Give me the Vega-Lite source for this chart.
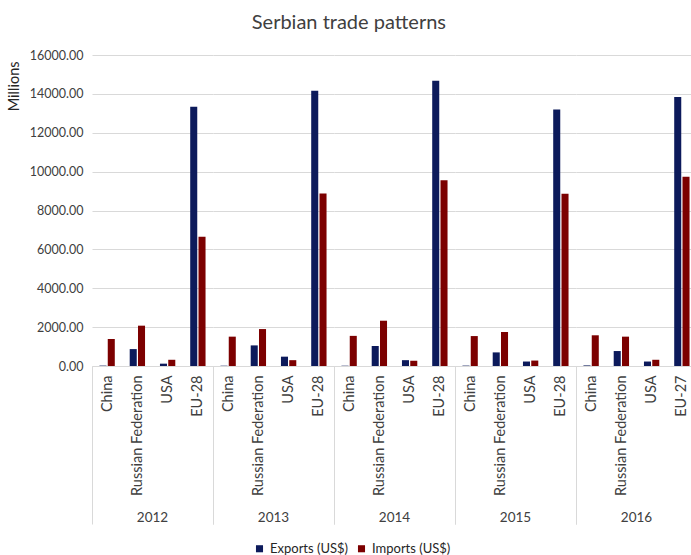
{
  "$schema": "https://vega.github.io/schema/vega-lite/v6.json",
  "padding": {"left": 6, "top": 13, "right": 0, "bottom": 0},
  "bounds": "flush",
  "title": {"text": "Serbian trade patterns", "font": "Lato", "fontSize": 20, "fontWeight": "normal", "color": "#404040", "anchor": "middle", "offset": 16, "dx": -3},
  "data": {"values": [
    {"year": "2012", "country": "China", "flow": "Exports (US$)", "value": 20},
    {"year": "2012", "country": "China", "flow": "Imports (US$)", "value": 1390},
    {"year": "2012", "country": "Russian Federation", "flow": "Exports (US$)", "value": 870},
    {"year": "2012", "country": "Russian Federation", "flow": "Imports (US$)", "value": 2075},
    {"year": "2012", "country": "USA", "flow": "Exports (US$)", "value": 120},
    {"year": "2012", "country": "USA", "flow": "Imports (US$)", "value": 320},
    {"year": "2012", "country": "EU-28", "flow": "Exports (US$)", "value": 13340},
    {"year": "2012", "country": "EU-28", "flow": "Imports (US$)", "value": 6650},
    {"year": "2013", "country": "China", "flow": "Exports (US$)", "value": 15},
    {"year": "2013", "country": "China", "flow": "Imports (US$)", "value": 1510},
    {"year": "2013", "country": "Russian Federation", "flow": "Exports (US$)", "value": 1060},
    {"year": "2013", "country": "Russian Federation", "flow": "Imports (US$)", "value": 1900},
    {"year": "2013", "country": "USA", "flow": "Exports (US$)", "value": 480},
    {"year": "2013", "country": "USA", "flow": "Imports (US$)", "value": 300},
    {"year": "2013", "country": "EU-28", "flow": "Exports (US$)", "value": 14160},
    {"year": "2013", "country": "EU-28", "flow": "Imports (US$)", "value": 8880},
    {"year": "2014", "country": "China", "flow": "Exports (US$)", "value": 15},
    {"year": "2014", "country": "China", "flow": "Imports (US$)", "value": 1550},
    {"year": "2014", "country": "Russian Federation", "flow": "Exports (US$)", "value": 1030},
    {"year": "2014", "country": "Russian Federation", "flow": "Imports (US$)", "value": 2330},
    {"year": "2014", "country": "USA", "flow": "Exports (US$)", "value": 300},
    {"year": "2014", "country": "USA", "flow": "Imports (US$)", "value": 270},
    {"year": "2014", "country": "EU-28", "flow": "Exports (US$)", "value": 14680},
    {"year": "2014", "country": "EU-28", "flow": "Imports (US$)", "value": 9550},
    {"year": "2015", "country": "China", "flow": "Exports (US$)", "value": 20},
    {"year": "2015", "country": "China", "flow": "Imports (US$)", "value": 1540},
    {"year": "2015", "country": "Russian Federation", "flow": "Exports (US$)", "value": 700},
    {"year": "2015", "country": "Russian Federation", "flow": "Imports (US$)", "value": 1750},
    {"year": "2015", "country": "USA", "flow": "Exports (US$)", "value": 230},
    {"year": "2015", "country": "USA", "flow": "Imports (US$)", "value": 280},
    {"year": "2015", "country": "EU-28", "flow": "Exports (US$)", "value": 13200},
    {"year": "2015", "country": "EU-28", "flow": "Imports (US$)", "value": 8860},
    {"year": "2016", "country": "China", "flow": "Exports (US$)", "value": 30},
    {"year": "2016", "country": "China", "flow": "Imports (US$)", "value": 1580},
    {"year": "2016", "country": "Russian Federation", "flow": "Exports (US$)", "value": 770},
    {"year": "2016", "country": "Russian Federation", "flow": "Imports (US$)", "value": 1510},
    {"year": "2016", "country": "USA", "flow": "Exports (US$)", "value": 230},
    {"year": "2016", "country": "USA", "flow": "Imports (US$)", "value": 320},
    {"year": "2016", "country": "EU-27", "flow": "Exports (US$)", "value": 13840},
    {"year": "2016", "country": "EU-27", "flow": "Imports (US$)", "value": 9740}
  ]},
  "facet": {
    "column": {
      "field": "year", "type": "ordinal", "title": null,
      "header": {"labelOrient": "bottom", "labelFont": "Lato", "labelFontSize": 13.5, "labelColor": "#404040", "labelPadding": 145}
    }
  },
  "spacing": 0,
  "spec": {
    "width": 121,
    "height": 311,
    "mark": {"type": "bar"},
    "encoding": {
      "x": {
        "field": "country", "type": "nominal",
        "sort": ["China", "Russian Federation", "USA", "EU-28", "EU-27"],
        "scale": {"paddingInner": 0, "paddingOuter": 0},
        "axis": {
          "title": null, "labelAngle": -90, "labelFont": "Lato", "labelFontSize": 14.5, "labelColor": "#404040",
          "domainColor": "#d9d9d9", "tickBand": "extent", "tickSize": 158, "labelPadding": -149,
          "tickColor": {"condition": {"test": "datum.value !== 'China' && datum.value !== 'Russian Federation' && datum.value !== 'USA'", "value": "#d9d9d9"}, "value": "transparent"}
        }
      },
      "xOffset": {"field": "flow", "type": "nominal", "scale": {"paddingInner": 0.15, "paddingOuter": 0.9}},
      "y": {
        "field": "value", "type": "quantitative",
        "scale": {"domain": [0, 16000], "nice": false},
        "axis": {
          "title": "Millions", "format": ".2f", "values": [0, 2000, 4000, 6000, 8000, 10000, 12000, 14000, 16000],
          "domain": false, "ticks": false, "labelPadding": 9, "labelFont": "Lato", "labelFontSize": 12.5, "labelColor": "#404040",
          "gridColor": "#d9d9d9", "titleFont": "Lato", "titleFontSize": 14.5, "titleFontWeight": "normal", "titleColor": "#262626",
          "titleAnchor": "end", "titleAlign": "right", "titleY": 6, "titlePadding": 8
        }
      },
      "color": {
        "field": "flow", "type": "nominal",
        "scale": {"domain": ["Exports (US$)", "Imports (US$)"], "range": ["#0c1a5b", "#7c0000"]},
        "legend": {"orient": "none", "direction": "horizontal", "title": null, "legendX": 161, "legendY": 487, "symbolType": "square", "symbolSize": 50, "labelFont": "Lato", "labelFontSize": 13, "labelColor": "#262626", "columnPadding": 6}
      }
    }
  },
  "resolve": {"scale": {"x": "independent", "xOffset": "independent"}},
  "config": {"view": {"stroke": null}}
}
